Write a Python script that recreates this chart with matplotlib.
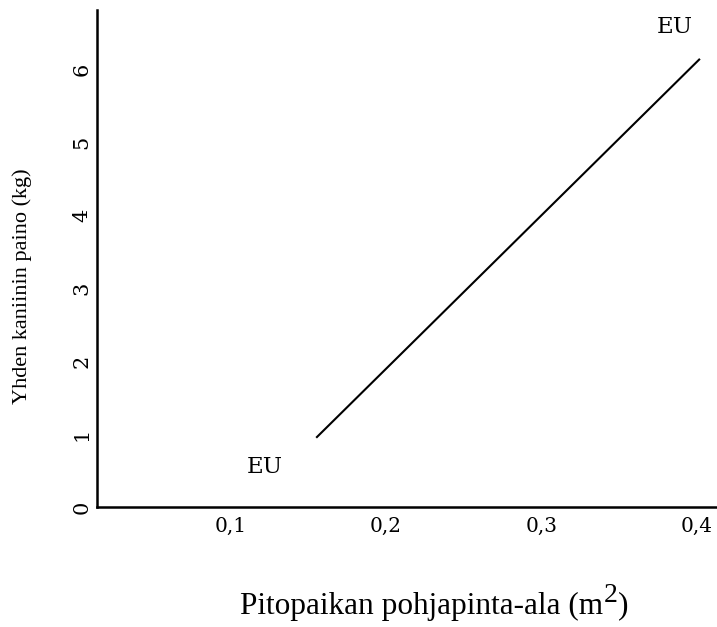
import matplotlib
matplotlib.use('Agg')
import matplotlib.pyplot as plt

# area per rabbit (m2) vs weight per rabbit (kg)
area = [0.155, 0.402]
weight = [0.95, 6.15]

x_ticks = [0.1, 0.2, 0.3, 0.4]
x_labels = ['0,1', '0,2', '0,3', '0,4']
y_ticks = [0, 1, 2, 3, 4, 5, 6]

plt.rcParams['font.family'] = ['Liberation Serif', 'DejaVu Serif']

fig = plt.figure(figsize=(7.17, 6.27), dpi=100)
ax = fig.add_axes([97/717, 120/627, 620/717, 497/627])

ax.plot(area, weight, color='black', linewidth=1.5, solid_capstyle='butt')

ax.text(0.122, 0.55, 'EU', fontsize=16.5, family='DejaVu Serif', ha='center', va='center')
ax.text(0.386, 6.58, 'EU', fontsize=16.5, family='DejaVu Serif', ha='center', va='center')

ax.set_xlim(0.0139, 0.413)
ax.set_ylim(0, 6.82)
ax.set_xticks(x_ticks)
ax.set_xticklabels(x_labels)
ax.set_yticks(y_ticks)
ax.tick_params(axis='x', length=0, pad=7, labelsize=14.5)
ax.tick_params(axis='y', length=0, pad=4, labelsize=15, labelrotation=90)
for lab in ax.get_xticklabels() + ax.get_yticklabels():
    lab.set_family('DejaVu Serif')
for lab in ax.get_yticklabels():
    lab.set_va('center')

for s in ['top', 'right']:
    ax.spines[s].set_visible(False)
for s in ['left', 'bottom']:
    ax.spines[s].set_linewidth(1.8)

# x label with a full-size raised "2"
y_lab = 1 - 606/627
t1 = fig.text(240/717, y_lab, 'Pitopaikan pohjapinta-ala (m', fontsize=22.5,
              ha='left', va='center')
fig.canvas.draw()
r = fig.canvas.get_renderer()
bb = t1.get_window_extent(r)
t2 = fig.text(bb.x1 / 717 + 0.001, y_lab + 0.016, '2', fontsize=20,
              ha='left', va='center')
bb2 = t2.get_window_extent(r)
fig.text(bb2.x1 / 717 + 0.001, y_lab, ')', fontsize=22.5, ha='left', va='center')

fig.text(22/717, 1 - 286/627, 'Yhden kaniinin paino (kg)', fontsize=16,
         ha='center', va='center', rotation=90)

fig.savefig('out.png', dpi=100)
